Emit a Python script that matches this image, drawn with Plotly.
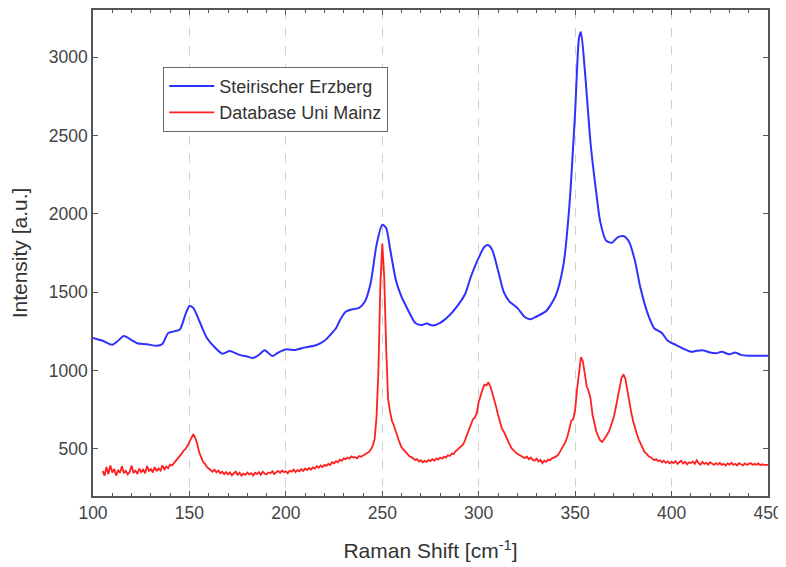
import plotly.graph_objects as go

# Blue: Steirischer Erzberg (smooth)
blue_x = [100, 105, 110, 113, 116, 120, 123, 128, 133, 136, 139, 142, 145, 148, 150, 152, 155, 159,
          163, 167, 171, 176, 180, 183, 186, 189, 193, 196, 200, 205, 210, 216, 220, 223, 226, 228,
          231, 234, 238, 241, 244, 247, 250, 252, 254, 257, 260, 262, 264, 267, 270, 273, 276, 280,
          285, 290, 293, 296, 300, 303, 305, 307, 310, 313, 316, 320, 324, 327, 330, 335, 340, 344,
          347, 350, 352, 353, 355, 358, 361, 363, 366, 369, 372, 375, 378, 381, 384, 388, 391, 395,
          398, 402, 406, 410, 413, 416, 420, 423, 426, 430, 433, 436, 440, 445, 450]
blue_y = [1208, 1190, 1165, 1190, 1220, 1195, 1174, 1168, 1158, 1170, 1240, 1250, 1262, 1360, 1412, 1400, 1320, 1210,
          1150, 1108, 1125, 1100, 1090, 1080, 1100, 1130, 1093, 1115, 1135, 1132, 1148, 1163, 1190, 1227, 1270, 1320,
          1375, 1390, 1400, 1440, 1560, 1800, 1930, 1910, 1780, 1580, 1470, 1420, 1370, 1305, 1290, 1300, 1288, 1305,
          1355, 1430, 1490, 1600, 1720, 1790, 1800, 1770, 1640, 1500, 1440, 1400, 1340, 1328, 1345, 1380, 1480, 1680,
          2050, 2650, 3120, 3160, 2920, 2450, 2130, 1950, 1830, 1815, 1850, 1858, 1820, 1700, 1520, 1350, 1270, 1240,
          1190, 1165, 1140, 1120, 1126, 1130, 1115, 1110, 1120, 1104, 1116, 1100, 1095, 1094, 1094]

# Red: Database Uni Mainz (1 cm^-1 steps from 105 to 450)
red_x = list(range(105, 451))
red_y = [
    360, 330, 385, 340, 395, 350, 372, 330, 365, 348, 390, 345, 360, 338, 352, 395, 350, 362, 340, 375,  # 105-124
    352, 368, 345, 390, 360, 372, 350, 385, 358, 376, 362, 395, 370, 388, 378, 400, 395, 410, 420, 440,  # 125-144
    455, 470, 490, 500, 520, 545, 580, 595, 570, 535, 480, 450, 420, 405, 385, 375, 365, 355, 368, 350,  # 145-164
    362, 345, 355, 340, 352, 338, 350, 332, 345, 355, 335, 348, 330, 342, 335, 350, 338, 345, 330, 348,  # 165-184
    340, 352, 335, 355, 342, 338, 350, 345, 358, 340, 352, 360, 348, 362, 352, 358, 345, 362, 355, 368,  # 185-204
    352, 365, 358, 372, 360, 375, 365, 378, 368, 382, 375, 390, 380, 395, 385, 398, 392, 405, 398, 415,  # 205-224
    408, 422, 415, 432, 425, 440, 435, 445, 438, 452, 445, 448, 440, 455, 450, 458, 462, 470, 480, 495,  # 225-244
    520, 560, 700, 1000, 1550, 1810, 1600, 1150, 820, 740, 680, 650, 610, 570, 540, 510, 495, 480, 470, 455,  # 245-264
    448, 440, 430, 435, 420, 428, 415, 425, 418, 430, 422, 435, 425, 440, 432, 445, 438, 450, 445, 460,  # 265-284
    455, 470, 468, 485, 495, 505, 520, 530, 560, 590, 620, 660, 690, 700, 730, 800, 850, 880, 910, 905,  # 285-304
    925, 900, 860, 820, 770, 720, 680, 630, 610, 580, 550, 530, 505, 490, 480, 470, 460, 455, 448, 442,  # 305-324
    450, 435, 445, 430, 425, 438, 420, 430, 410, 425, 418, 432, 428, 440, 445, 455, 460, 480, 500, 520,  # 325-344
    545, 580, 640, 680, 690, 750, 880, 1000, 1085, 1060, 980, 900, 870, 820, 720, 660, 610, 580, 555, 545,  # 345-364
    560, 580, 600, 625, 665, 700, 760, 820, 890, 950, 975, 950, 880, 800, 740, 680, 630, 595, 560, 530,  # 365-384
    505, 480, 470, 455, 448, 440, 428, 435, 422, 428, 415, 425, 412, 420, 408, 418, 410, 422, 405, 415,  # 385-404
    425, 408, 418, 402, 415, 410, 420, 405, 428, 410, 400, 418, 405, 412, 400, 415, 405, 398, 410, 400,  # 405-424
    412, 398, 405, 395, 408, 400, 412, 398, 405, 395, 410, 400, 395, 408, 398, 405, 410, 398, 405, 400,  # 425-444
    408, 396, 402, 398, 400, 398,  # 445-450
]

x_ticks = [100, 150, 200, 250, 300, 350, 400, 450]
y_ticks = [500, 1000, 1500, 2000, 2500, 3000]

FONT = "Liberation Sans, Arial"

fig = go.Figure()
fig.add_trace(go.Scatter(x=blue_x, y=blue_y, mode="lines", name="Steirischer Erzberg",
                         line=dict(color="#3030ff", width=2, shape="spline", smoothing=0.7)))
fig.add_trace(go.Scatter(x=red_x, y=red_y, mode="lines", name="Database Uni Mainz",
                         line=dict(color="#ff2020", width=1.8)))

axis_common = dict(showline=True, linecolor="#555555", linewidth=1.5, mirror="ticks",
                   ticks="inside", tickcolor="#555555", tickwidth=1.2, ticklen=5,
                   tickfont=dict(family=FONT, size=17.5, color="#444444"),
                   zeroline=False, automargin=False)

fig.update_xaxes(range=[100, 450], tickvals=x_ticks, showgrid=True, gridcolor="#d0d0d0",
                 griddash="dash", gridwidth=1.2,
                 minor=dict(dtick=10, ticks="inside", ticklen=3, tickcolor="#555555", showgrid=False),
                 title=dict(text="Raman Shift [cm<sup>-1</sup>]", standoff=22,
                            font=dict(family=FONT, size=21, color="#333333")),
                 **axis_common)
fig.update_yaxes(range=[200, 3300], tickvals=y_ticks, showgrid=False,
                 title=dict(text="Intensity [a.u.]", standoff=20,
                            font=dict(family=FONT, size=21, color="#333333")),
                 **axis_common)

# page body has an 8px margin, so the figure is sized/offset to compensate
fig.update_layout(
    width=778, height=559,
    margin=dict(l=85, r=18, t=2, b=71),
    plot_bgcolor="white", paper_bgcolor="white",
    showlegend=True,
    legend=dict(x=0.104, y=0.883, xanchor="left", yanchor="top",
                bgcolor="white", bordercolor="#666666", borderwidth=1,
                font=dict(family=FONT, size=18, color="#333333"),
                itemwidth=45, tracegroupgap=0),
)

fig.write_html("out.html")
